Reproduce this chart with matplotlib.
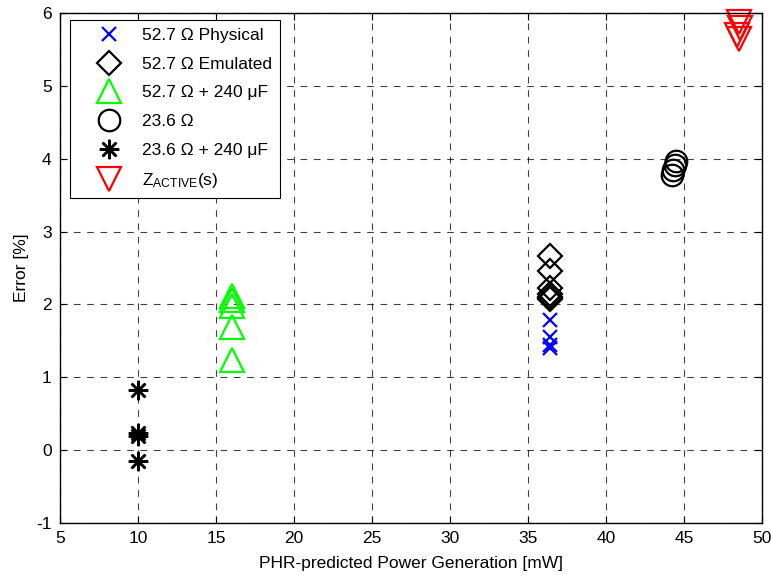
import matplotlib
matplotlib.use('Agg')
import matplotlib.pyplot as plt

plt.rcParams['font.family'] = ['Liberation Sans', 'DejaVu Sans']
plt.rcParams['mathtext.fontset'] = 'custom'
plt.rcParams['mathtext.rm'] = 'Liberation Sans'
plt.rcParams['mathtext.it'] = 'Liberation Sans:italic'
plt.rcParams['axes.unicode_minus'] = False

# data
phys_x = [36.4, 36.4, 36.4, 36.4]
phys_y = [1.78, 1.55, 1.44, 1.40]

emul_x = [36.4, 36.4, 36.4, 36.4, 36.4, 36.4]
emul_y = [2.66, 2.46, 2.22, 2.15, 2.10, 2.07]

cap527_x = [16.0, 16.0, 16.0, 16.0, 16.0]
cap527_y = [2.12, 2.06, 1.98, 1.69, 1.24]

r236_x = [44.5, 44.4, 44.3, 44.2]
r236_y = [3.97, 3.91, 3.85, 3.78]

cap236_x = [10.0, 10.0, 10.0, 10.0]
cap236_y = [0.82, 0.24, 0.20, -0.15]

zact_x = [48.5, 48.6, 48.4, 48.5]
zact_y = [5.87, 5.80, 5.70, 5.64]

labels = ['52.7 Ω Physical', '52.7 Ω Emulated', '52.7 Ω + 240 μF',
          '23.6 Ω', '23.6 Ω + 240 μF', r'Z$_{\mathrm{ACTIVE}}$(s)']

fs = 12.5

fig = plt.figure(figsize=(7.71, 5.75), dpi=100)
ax = fig.add_axes([60 / 771, 1 - 523 / 575, 702 / 771, 510 / 575])

mew = 1.6
ax.plot(phys_x, phys_y, 'x', color='blue', ms=10, mew=mew, label=labels[0], clip_on=False)
ax.plot(emul_x, emul_y, 'D', mfc='none', mec='black', ms=12.5, mew=mew, label=labels[1], clip_on=False)
ax.plot(cap527_x, cap527_y, '^', mfc='none', mec='#00ff00', ms=17.5, mew=mew, label=labels[2], clip_on=False)
ax.plot(r236_x, r236_y, 'o', mfc='none', mec='black', ms=15.5, mew=mew, label=labels[3], clip_on=False)
ax.plot(cap236_x, cap236_y, marker=(8, 2, 0), ls='none', mec='black', ms=14, mew=1.8, label=labels[4], clip_on=False)
ax.plot(zact_x, zact_y, 'v', mfc='none', mec='red', ms=17.5, mew=mew, label=labels[5], clip_on=False)

ax.set_xlim(5, 50)
ax.set_ylim(-1, 6)
ax.set_xticks(range(5, 51, 5))
ax.set_yticks(range(-1, 7))
ax.tick_params(direction='in', top=True, right=True, length=5, labelsize=fs, pad=6)
ax.grid(True, color='black', linestyle=(0, (6, 6)), linewidth=0.8, alpha=0.75)
for s in ax.spines.values():
    s.set_linewidth(1.0)

ax.set_xlabel('PHR-predicted Power Generation [mW]', fontsize=fs, labelpad=7)
ax.set_ylabel('Error [%]', fontsize=fs, labelpad=5)

leg = ax.legend(loc='upper left', bbox_to_anchor=(10 / 702, 503 / 510), borderaxespad=0,
                fontsize=fs, numpoints=1, fancybox=False, framealpha=1,
                edgecolor='black', handlelength=3.6, handletextpad=0.1,
                borderpad=0.45, labelspacing=0.78)
leg.get_frame().set_linewidth(0.8)

fig.savefig('out.png', dpi=100)
